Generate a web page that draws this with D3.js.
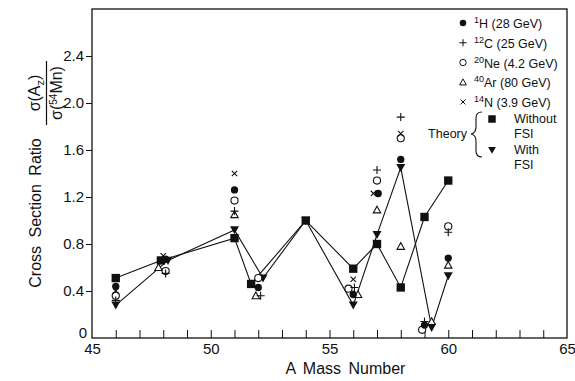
<!DOCTYPE html>
<html>
<head>
<meta charset="utf-8">
<script src="https://cdn.jsdelivr.net/npm/d3@7"></script>
<style>
  body { margin: 0; background: #fff; }
  svg { display: block; font-family: "Liberation Sans", "DejaVu Sans", sans-serif; }
</style>
</head>
<body>
<svg width="575" height="381"></svg>
<script>
// data: [A, ratio]
var h1Data  = [[46,0.44],[48.1,0.67],[51,1.26],[52,0.43],[56,0.37],[57.05,1.23],[58,1.52],[59,0.11],[60,0.68]];
var c12Data = [[46,0.32],[48.1,0.55],[51,1.08],[52.1,0.36],[56.05,0.43],[57,1.43],[58,1.88],[59,0.14],[60,0.90]];
var ne20Data = [[46,0.36],[48.1,0.57],[51,1.17],[52,0.51],[55.8,0.42],[57,1.34],[58,1.70],[58.9,0.07],[60,0.95]];
var ar40Data = [[47.8,0.60],[51,1.05],[51.9,0.36],[56.2,0.37],[57,1.09],[58,0.78],[59.3,0.14],[60,0.62]];
var n14Data = [[46,0.40],[48,0.70],[51,1.40],[56,0.50],[56.85,1.23],[58,1.74]];

var noFsiA   = [46, 47.9, 51, 51.7, 54, 56, 57, 58, 59, 60];
var noFsiVal = [0.51, 0.66, 0.85, 0.46, 1.00, 0.59, 0.80, 0.43, 1.03, 1.34];
var fsiA     = [46, 48.2, 51, 52.2, 54, 56, 57, 58, 59.3, 60];
var fsiVal   = [0.28, 0.66, 0.92, 0.51, 1.00, 0.28, 0.88, 1.45, 0.09, 0.53];

var yTicks = [0, 0.4, 0.8, 1.2, 1.6, 2.0, 2.4];
var xLabelTicks = [45, 50, 55, 60, 65];
var xMinorTicks = d3.range(46, 65);

var svg = d3.select("svg");
var ink = "#111";

var x = d3.scaleLinear().domain([45, 65]).range([92, 567]);
var y = d3.scaleLinear().domain([0, 2.8]).range([338, 9]);

// frame
svg.append("rect")
  .attr("x", x(45)).attr("y", y(2.8))
  .attr("width", x(65) - x(45)).attr("height", y(0) - y(2.8))
  .attr("fill", "none").attr("stroke", ink).attr("stroke-width", 1.3);

// y axis, outward ticks
var yAxis = svg.append("g")
  .attr("transform", "translate(" + x(45) + ",0)")
  .call(d3.axisLeft(y).tickValues(yTicks).tickSize(6).tickPadding(2)
    .tickFormat(function(d){ return d == 0 ? "0" : d3.format(".1f")(d); }));
yAxis.select(".domain").remove();
yAxis.selectAll("line").attr("stroke", ink);
yAxis.selectAll("text").attr("fill", ink).style("font-size", "15px");
yAxis.selectAll(".tick").filter(function(d){ return d == 0; })
  .select("text").attr("dy", "-0.05em").attr("x", -5);
yAxis.selectAll(".tick").filter(function(d){ return d == 0; }).select("line").remove();

// x axis: inward minor ticks + labels
var xTicksG = svg.append("g")
  .attr("transform", "translate(0," + y(0) + ")")
  .call(d3.axisTop(x).tickValues(xMinorTicks).tickSize(8).tickFormat(""));
xTicksG.select(".domain").remove();
xTicksG.selectAll("line").attr("stroke", ink);

var xAxis = svg.append("g")
  .attr("transform", "translate(0," + y(0) + ")")
  .call(d3.axisBottom(x).tickValues(xLabelTicks).tickSize(0).tickPadding(5));
xAxis.select(".domain").remove();
xAxis.selectAll("text").attr("fill", ink).style("font-size", "15px");

// axis titles
svg.append("text")
  .attr("x", (x(45) + x(65)) / 2 + 16).attr("y", 374)
  .attr("text-anchor", "middle").attr("fill", ink)
  .style("font-size", "16px").style("word-spacing", "3px")
  .text("A Mass Number");

var yTitle = svg.append("g").attr("transform", "rotate(-90)");
yTitle.append("text")
  .attr("x", -213).attr("y", 41)
  .attr("text-anchor", "middle").attr("fill", ink)
  .style("font-size", "16px").style("word-spacing", "4px")
  .text("Cross Section Ratio");

var num = yTitle.append("text")
  .attr("x", -93).attr("y", 40)
  .attr("text-anchor", "middle").attr("fill", ink).style("font-size", "16px");
num.append("tspan").text("\u03c3(A");
num.append("tspan").attr("dy", 4).style("font-size", "11px").text("z");
num.append("tspan").attr("dy", -4).text(")");

yTitle.append("line")
  .attr("x1", -125).attr("x2", -61).attr("y1", 46.5).attr("y2", 46.5)
  .attr("stroke", ink).attr("stroke-width", 1.2);

var den = yTitle.append("text")
  .attr("x", -93).attr("y", 62)
  .attr("text-anchor", "middle").attr("fill", ink).style("font-size", "16px");
den.append("tspan").text("\u03c3(");
den.append("tspan").attr("dy", -5).style("font-size", "10px").text("54");
den.append("tspan").attr("dy", 5).text("Mn)");

// marker shapes
var plusType = { draw: function(c, s){ var r = Math.sqrt(s) / 2; c.moveTo(-r, 0); c.lineTo(r, 0); c.moveTo(0, -r); c.lineTo(0, r); } };
var timesType = { draw: function(c, s){ var r = Math.sqrt(s) / 2.6; c.moveTo(-r, -r); c.lineTo(r, r); c.moveTo(-r, r); c.lineTo(r, -r); } };
var triUpType = { draw: function(c, s){ var r = Math.sqrt(s) / 2; c.moveTo(0, -r); c.lineTo(r, r * 0.8); c.lineTo(-r, r * 0.8); c.closePath(); } };
var triDownType = { draw: function(c, s){ var r = Math.sqrt(s) / 2; c.moveTo(-r, -r * 0.8); c.lineTo(r, -r * 0.8); c.lineTo(0, r); c.closePath(); } };

var styles = {
  h1:   { type: d3.symbolCircle, size: 42, fill: ink, stroke: "none" },
  c12:  { type: plusType, size: 64, fill: "none", stroke: ink },
  ne20: { type: d3.symbolCircle, size: 40, fill: "#fff", stroke: ink },
  ar40: { type: triUpType, size: 56, fill: "#fff", stroke: ink },
  n14:  { type: timesType, size: 50, fill: "none", stroke: ink },
  sq:   { type: d3.symbolSquare, size: 70, fill: ink, stroke: "none" },
  tri:  { type: triDownType, size: 80, fill: ink, stroke: "none" }
};

function drawMarks(data, st) {
  svg.append("g").selectAll("path")
    .data(data)
    .enter().append("path")
      .attr("transform", function(d){ return "translate(" + x(d[0]) + "," + y(d[1]) + ")"; })
      .attr("d", d3.symbol().type(st.type).size(st.size))
      .attr("fill", st.fill).attr("stroke", st.stroke).attr("stroke-width", 1.1);
}

// theory lines
var line = d3.line().x(function(d){ return x(d[0]); }).y(function(d){ return y(d[1]); });
var noFsi = noFsiA.map(function(a, i){ return [a, noFsiVal[i]]; });
var fsi = fsiA.map(function(a, i){ return [a, fsiVal[i]]; });

[noFsi, fsi].forEach(function(pts){
  svg.append("path").datum(pts)
    .attr("d", line).attr("fill", "none").attr("stroke", ink).attr("stroke-width", 1.1);
});

drawMarks(noFsi, styles.sq);
drawMarks(fsi, styles.tri);
drawMarks(ar40Data, styles.ar40);
drawMarks(ne20Data, styles.ne20);
drawMarks(h1Data, styles.h1);
drawMarks(c12Data, styles.c12);
drawMarks(n14Data, styles.n14);

// legend
var legendItems = [
  { st: styles.h1,   sup: "1",  rest: "H (28 GeV)" },
  { st: styles.c12,  sup: "12", rest: "C (25 GeV)" },
  { st: styles.ne20, sup: "20", rest: "Ne (4.2 GeV)" },
  { st: styles.ar40, sup: "40", rest: "Ar (80 GeV)" },
  { st: styles.n14,  sup: "14", rest: "N (3.9 GeV)" }
];
var legendY = d3.scalePoint().domain(d3.range(legendItems.length)).range([23, 102]);

var lg = svg.append("g");
legendItems.forEach(function(it, i){
  var ly = legendY(i);
  lg.append("path")
    .attr("transform", "translate(463," + ly + ")")
    .attr("d", d3.symbol().type(it.st.type).size(it.st.size * 0.8))
    .attr("fill", it.st.fill).attr("stroke", it.st.stroke).attr("stroke-width", 1);
  var t = lg.append("text").attr("x", 474).attr("y", ly + 5)
    .attr("fill", ink).style("font-size", "12.5px");
  t.append("tspan").attr("dy", -5).style("font-size", "9px").text(it.sup);
  t.append("tspan").attr("dy", 5).text(it.rest);
});

lg.append("path").attr("transform", "translate(492,119)")
  .attr("d", d3.symbol().type(styles.sq.type).size(56)).attr("fill", ink);
lg.append("path").attr("transform", "translate(492,150)")
  .attr("d", d3.symbol().type(styles.tri.type).size(60)).attr("fill", ink);

[["Without", 123], ["FSI", 138], ["With", 154], ["FSI", 169]].forEach(function(r){
  lg.append("text").attr("x", 514).attr("y", r[1])
    .attr("fill", ink).style("font-size", "12.5px").text(r[0]);
});
lg.append("text").attr("x", 467).attr("y", 138).attr("text-anchor", "end")
  .attr("fill", ink).style("font-size", "12.5px").text("Theory");

// curly brace
lg.append("path")
  .attr("d", "M482,112 Q476,112 476,118 L476,127 Q476,133 471,134 Q476,135 476,141 L476,151 Q476,157 482,157")
  .attr("fill", "none").attr("stroke", ink).attr("stroke-width", 1.1);
</script>
</body>
</html>
